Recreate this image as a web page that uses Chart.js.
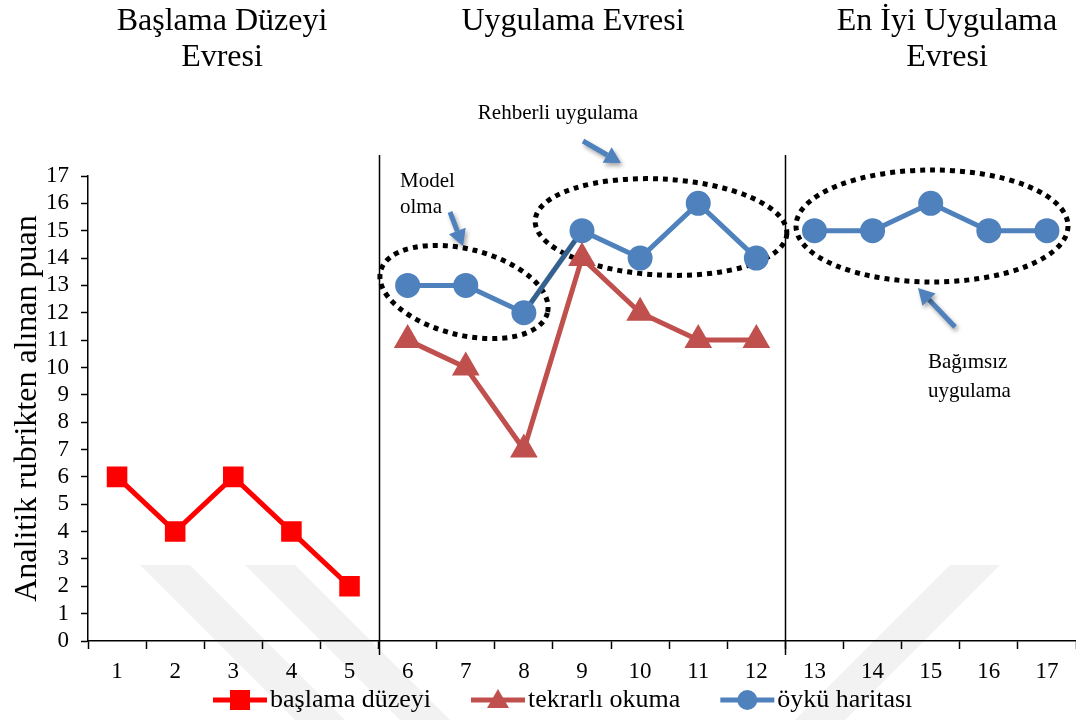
<!DOCTYPE html>
<html>
<head>
<meta charset="utf-8">
<script src="https://cdn.jsdelivr.net/npm/chart.js@4/dist/chart.umd.min.js"></script>
<style>
  html, body { margin: 0; padding: 0; background: #fff; }
  #wrap { width: 1076px; height: 720px; position: relative; }
</style>
</head>
<body>
<div id="wrap"><canvas id="chart"></canvas></div>
<script>
// sessions 1..17
const sessions = ['1','2','3','4','5','6','7','8','9','10','11','12','13','14','15','16','17'];
const baslamaDuzeyi = [6, 4, 6, 4, 2, null, null, null, null, null, null, null, null, null, null, null, null];
const tekrarliOkuma = [null, null, null, null, null, 11, 10, 7, 14, 12, 11, 11, null, null, null, null, null];
const oykuHaritasi = [null, null, null, null, null, 13, 13, 12, 15, 14, 16, 14, 15, 15, 16, 15, 15];
const yTickValues = [0,1,2,3,4,5,6,7,8,9,10,11,12,13,14,15,16,17];

const SERIF = '"Liberation Serif", "Times New Roman", serif';
const RED = '#FF0000';
const DARK_RED = '#C0504D';
const BLUE = '#4F81BD';

function drawMarker(ctx, style, cx, cy) {
    ctx.beginPath();
    if (style === 'rect') {
        ctx.rect(cx - 10, cy - 10, 20, 20);
    } else if (style === 'triangle') {
        ctx.moveTo(cx, cy - 11); ctx.lineTo(cx + 11, cy + 8); ctx.lineTo(cx - 11, cy + 8); ctx.closePath();
    } else {
        ctx.arc(cx, cy, 10, 0, Math.PI * 2);
    }
    ctx.fill();
}

function drawEllipse(ctx, cx, cy, rx, ry, rot) {
    ctx.save();
    ctx.strokeStyle = '#000';
    ctx.lineWidth = 5;
    ctx.setLineDash([5, 5]);
    ctx.beginPath();
    ctx.ellipse(cx, cy, rx, ry, rot * Math.PI / 180, 0, Math.PI * 2);
    ctx.stroke();
    ctx.restore();
}

function drawArrow(ctx, x1, y1, x2, y2) {
    ctx.save();
    ctx.shadowColor = 'rgba(0,0,0,0.35)';
    ctx.shadowBlur = 4;
    ctx.shadowOffsetX = 2;
    ctx.shadowOffsetY = 3;
    const ang = Math.atan2(y2 - y1, x2 - x1);
    const head = 16, hw = 9;
    const bx = x2 - head * Math.cos(ang), by = y2 - head * Math.sin(ang);
    ctx.strokeStyle = BLUE; ctx.fillStyle = BLUE; ctx.lineWidth = 5;
    ctx.beginPath(); ctx.moveTo(x1, y1); ctx.lineTo(bx, by); ctx.stroke();
    ctx.beginPath();
    ctx.moveTo(x2, y2);
    ctx.lineTo(bx + hw * Math.sin(ang), by - hw * Math.cos(ang));
    ctx.lineTo(bx - hw * Math.sin(ang), by + hw * Math.cos(ang));
    ctx.closePath(); ctx.fill();
    ctx.restore();
}

const backdrop = {
    id: 'backdrop',
    beforeDraw(chart) {
        const ctx = chart.ctx;
        ctx.save();
        ctx.fillStyle = '#f2f2f2';
        // faint watermark bands
        const bands = [[140, 565], [245, 565], [1000, 565]];
        bands.forEach(([x, y], i) => {
            const dir = i < 2 ? 1 : -1;
            ctx.beginPath();
            ctx.moveTo(x, y);
            ctx.lineTo(x + 50 * dir, y);
            ctx.lineTo(x + 50 * dir + 160 * dir, y + 160);
            ctx.lineTo(x + 160 * dir, y + 160);
            ctx.closePath();
            ctx.fill();
        });
        ctx.restore();
    },
    beforeDatasetsDraw(chart) {
        const ctx = chart.ctx;
        drawEllipse(ctx, 464, 292, 86, 43, 14);
        drawEllipse(ctx, 661, 227, 126, 48, 3);
        drawEllipse(ctx, 932, 226, 136, 56, 0);
    },
    afterDraw(chart) {
        const ctx = chart.ctx;
        const x = chart.scales.x;
        ctx.save();
        // phase separators
        ctx.strokeStyle = '#000';
        ctx.lineWidth = 1.5;
        [4.5, 11.5].forEach(v => {
            const px = Math.round(x.getPixelForValue(v)) + 0.5;
            ctx.beginPath(); ctx.moveTo(px, 155); ctx.lineTo(px, 655); ctx.stroke();
        });
        // phase titles
        ctx.fillStyle = '#000';
        ctx.textAlign = 'center';
        ctx.textBaseline = 'middle';
        ctx.font = '32px ' + SERIF;
        ctx.fillText('Başlama Düzeyi', 222, 22);
        ctx.fillText('Evresi', 222, 58);
        ctx.fillText('Uygulama Evresi', 573, 22);
        ctx.fillText('En İyi Uygulama', 947, 22);
        ctx.fillText('Evresi', 947, 58);
        // annotations
        ctx.font = '21px ' + SERIF;
        ctx.fillText('Rehberli uygulama', 558, 113);
        ctx.textAlign = 'left';
        ctx.fillText('Model', 400, 181);
        ctx.fillText('olma', 400, 207);
        ctx.fillText('Bağımsız', 928, 362);
        ctx.fillText('uygulama', 928, 391);

        // legend: line + marker, then label
        ctx.font = '26px ' + SERIF;
        let lx = 211;
        const ly = 700;
        chart.data.datasets.forEach(ds => {
            ctx.strokeStyle = ds.borderColor;
            ctx.fillStyle = ds.borderColor;
            ctx.lineWidth = 5;
            ctx.beginPath(); ctx.moveTo(lx + 2, ly); ctx.lineTo(lx + 56, ly); ctx.stroke();
            drawMarker(ctx, ds.pointStyle, lx + 29, ly);
            ctx.fillStyle = '#000';
            ctx.fillText(ds.label, lx + 59, ly);
            lx += 59 + ctx.measureText(ds.label).width + 38;
        });
        ctx.restore();
        drawArrow(ctx, 583, 141, 621, 163);
        drawArrow(ctx, 450, 212, 463, 246);
        drawArrow(ctx, 955, 327, 918, 288);
    }
};

new Chart(document.getElementById('chart'), {
    type: 'line',
    data: {
        labels: sessions,
        datasets: [{
            label: 'başlama düzeyi',
            data: baslamaDuzeyi,
            borderColor: RED,
            backgroundColor: RED,
            borderWidth: 5,
            pointStyle: 'rect',
            pointRadius: 11,
            pointHoverRadius: 11
        }, {
            label: 'tekrarlı okuma',
            data: tekrarliOkuma,
            borderColor: DARK_RED,
            backgroundColor: DARK_RED,
            borderWidth: 5,
            pointStyle: 'triangle',
            pointRadius: 11,
            pointHoverRadius: 11
        }, {
            label: 'öykü haritası',
            data: oykuHaritasi,
            borderColor: BLUE,
            backgroundColor: BLUE,
            borderWidth: 5,
            pointStyle: 'circle',
            pointRadius: 10,
            pointHoverRadius: 10,
            segment: {
                borderColor: ctx => ctx.p0DataIndex === 11 ? 'rgba(0,0,0,0)'
                    : (ctx.p0DataIndex === 7 ? '#35618F' : undefined)
            }
        }]
    },
    options: {
        responsive: true,
        maintainAspectRatio: false,
        animation: false,
        layout: { autoPadding: false, padding: { top: 176, right: 0, left: 0, bottom: 40 } },
        plugins: {
            legend: { display: false },
            tooltip: { enabled: false }
        },
        scales: {
            x: {
                offset: true,
                afterFit(scale) {
                    scale.height = 39;
                    scale.paddingLeft = 0;
                    scale.paddingRight = 0;
                },
                grid: {
                    offset: true,
                    drawOnChartArea: false,
                    drawTicks: true,
                    tickLength: 8,
                    tickColor: '#000',
                    tickWidth: 1.5
                },
                border: { color: '#000', width: 1.5 },
                ticks: {
                    color: '#000',
                    font: { family: SERIF, size: 23 },
                    padding: 9,
                    maxRotation: 0
                }
            },
            y: {
                min: 0,
                max: 17,
                afterBuildTicks(scale) {
                    scale.ticks = yTickValues.map(v => ({ value: v }));
                },
                afterFit(scale) {
                    scale.width = 88;
                    scale.paddingTop = 0;
                    scale.paddingBottom = 0;
                },
                grid: {
                    drawOnChartArea: false,
                    tickLength: 7,
                    tickColor: '#000',
                    tickWidth: 1.5
                },
                border: { color: '#000', width: 1.5 },
                ticks: {
                    color: '#000',
                    font: { family: SERIF, size: 23 },
                    padding: 12,
                    autoSkip: false
                },
                title: {
                    display: true,
                    text: 'Analitik rubrikten alınan puan',
                    color: '#000',
                    font: { family: SERIF, size: 32 },
                    padding: { top: 8, bottom: 4 }
                }
            }
        }
    },
    plugins: [backdrop]
});
</script>
</body>
</html>
